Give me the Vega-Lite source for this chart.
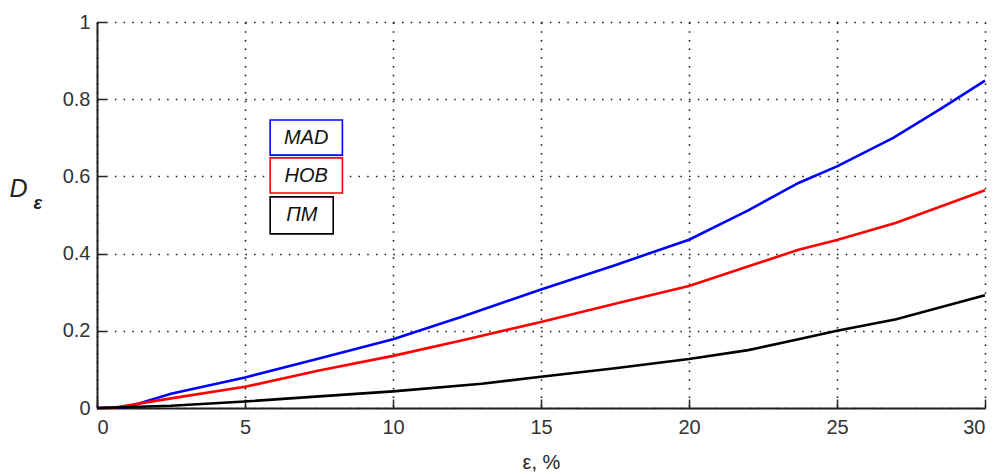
{
  "$schema": "https://vega.github.io/schema/vega-lite/v6.json",
  "width": 888,
  "height": 386,
  "autosize": {"type": "none"},
  "padding": {"left": 97, "top": 22, "right": 9, "bottom": 66},
  "background": "white",
  "config": {"view": {"stroke": null}, "font": "Liberation Sans"},
  "datasets": {
    "curves": [
      {"e": 0, "D": 0, "method": "MAD"},
      {"e": 1, "D": 0.002, "method": "MAD"},
      {"e": 2.5, "D": 0.037, "method": "MAD"},
      {"e": 5, "D": 0.079, "method": "MAD"},
      {"e": 7.5, "D": 0.128, "method": "MAD"},
      {"e": 10, "D": 0.178, "method": "MAD"},
      {"e": 12.3, "D": 0.236, "method": "MAD"},
      {"e": 15, "D": 0.307, "method": "MAD"},
      {"e": 17.5, "D": 0.37, "method": "MAD"},
      {"e": 20, "D": 0.436, "method": "MAD"},
      {"e": 22, "D": 0.512, "method": "MAD"},
      {"e": 23.7, "D": 0.583, "method": "MAD"},
      {"e": 25, "D": 0.626, "method": "MAD"},
      {"e": 26.9, "D": 0.7, "method": "MAD"},
      {"e": 28.5, "D": 0.775, "method": "MAD"},
      {"e": 30, "D": 0.848, "method": "MAD"},
      {"e": 0, "D": 0, "method": "НОВ"},
      {"e": 0.5, "D": 0, "method": "НОВ"},
      {"e": 2.5, "D": 0.025, "method": "НОВ"},
      {"e": 5, "D": 0.055, "method": "НОВ"},
      {"e": 7.5, "D": 0.097, "method": "НОВ"},
      {"e": 10, "D": 0.135, "method": "НОВ"},
      {"e": 12.5, "D": 0.178, "method": "НОВ"},
      {"e": 15, "D": 0.223, "method": "НОВ"},
      {"e": 17.5, "D": 0.27, "method": "НОВ"},
      {"e": 20, "D": 0.316, "method": "НОВ"},
      {"e": 23.7, "D": 0.41, "method": "НОВ"},
      {"e": 25, "D": 0.435, "method": "НОВ"},
      {"e": 27, "D": 0.48, "method": "НОВ"},
      {"e": 30, "D": 0.564, "method": "НОВ"},
      {"e": 0, "D": 0, "method": "ПМ"},
      {"e": 2.5, "D": 0.006, "method": "ПМ"},
      {"e": 5, "D": 0.017, "method": "ПМ"},
      {"e": 7.5, "D": 0.03, "method": "ПМ"},
      {"e": 10, "D": 0.043, "method": "ПМ"},
      {"e": 13, "D": 0.063, "method": "ПМ"},
      {"e": 15, "D": 0.081, "method": "ПМ"},
      {"e": 17.5, "D": 0.103, "method": "ПМ"},
      {"e": 20, "D": 0.127, "method": "ПМ"},
      {"e": 22, "D": 0.15, "method": "ПМ"},
      {"e": 23.7, "D": 0.178, "method": "ПМ"},
      {"e": 25, "D": 0.2, "method": "ПМ"},
      {"e": 27, "D": 0.23, "method": "ПМ"},
      {"e": 30, "D": 0.292, "method": "ПМ"}
    ],
    "labels": [
      {"method": "MAD", "x1": 5.85, "x2": 8.29, "y1": 0.655, "y2": 0.746, "tx": 7.07, "ty": 0.70},
      {"method": "НОВ", "x1": 5.85, "x2": 8.29, "y1": 0.557, "y2": 0.648, "tx": 7.07, "ty": 0.602},
      {"method": "ПМ", "x1": 5.85, "x2": 7.98, "y1": 0.451, "y2": 0.547, "tx": 6.92, "ty": 0.499}
    ],
    "sub": [{"s": "ε", "x": -2.0, "y": 0.516}]
  },
  "layer": [
    {
      "data": {"name": "curves"},
      "mark": {"type": "line"},
      "encoding": {
        "x": {
          "field": "e", "type": "quantitative",
          "scale": {"domain": [0, 30], "nice": false},
          "axis": {
            "values": [0, 5, 10, 15, 20, 25, 30],
            "title": "ε, %",
            "titleFont": "Liberation Sans", "titleFontSize": 20, "titleFontWeight": "normal", "titleColor": "#222",
            "titleY": 60, "titleBaseline": "alphabetic",
            "labelFont": "Liberation Sans", "labelFontSize": 20, "labelColor": "#333",
            "labelPadding": 18, "tickSize": -9, "tickColor": "#222", "tickWidth": 1.5,
            "domainColor": "#222", "domainWidth": 2,
            "grid": true, "gridColor": "#000", "gridDash": [1.5, 7.2], "gridWidth": 1.6, "gridOpacity": 0.9
          }
        },
        "y": {
          "field": "D", "type": "quantitative",
          "scale": {"domain": [0, 1], "nice": false},
          "axis": {
            "values": [0, 0.2, 0.4, 0.6, 0.8, 1],
            "format": "~g",
            "title": "D",
            "titleFont": "Liberation Sans", "titleFontSize": 25, "titleFontStyle": "italic", "titleFontWeight": "normal", "titleColor": "#222",
            "titleAngle": 0, "titleAlign": "left", "titleBaseline": "alphabetic", "titleX": -88, "titleY": 174,
            "labelFont": "Liberation Sans", "labelFontSize": 20, "labelColor": "#333",
            "labelPadding": 16, "tickSize": -9, "tickColor": "#222", "tickWidth": 1.5,
            "domainColor": "#222", "domainWidth": 2,
            "grid": true, "gridColor": "#000", "gridDash": [1.5, 7.2], "gridWidth": 1.6, "gridOpacity": 0.9
          }
        },
        "color": {
          "field": "method", "type": "nominal",
          "scale": {"domain": ["MAD", "НОВ", "ПМ"], "range": ["#0000ff", "#ff0000", "#000000"]},
          "legend": null
        },
        "strokeWidth": {
          "field": "method", "type": "nominal",
          "scale": {"domain": ["MAD", "НОВ", "ПМ"], "range": [2.6, 2.6, 3.6]},
          "legend": null
        }
      }
    },
    {
      "data": {"name": "labels"},
      "mark": {"type": "rect", "fill": "white", "strokeWidth": 1.6},
      "encoding": {
        "x": {"field": "x1", "type": "quantitative"},
        "x2": {"field": "x2"},
        "y": {"field": "y1", "type": "quantitative"},
        "y2": {"field": "y2"},
        "stroke": {
          "field": "method", "type": "nominal",
          "scale": {"domain": ["MAD", "НОВ", "ПМ"], "range": ["#0000ff", "#ff0000", "#000000"]},
          "legend": null
        }
      }
    },
    {
      "data": {"name": "labels"},
      "mark": {"type": "text", "font": "Liberation Sans", "fontSize": 20, "fontStyle": "italic", "color": "#111", "align": "center", "baseline": "middle"},
      "encoding": {
        "x": {"field": "tx", "type": "quantitative"},
        "y": {"field": "ty", "type": "quantitative"},
        "text": {"field": "method"}
      }
    },
    {
      "data": {"name": "sub"},
      "mark": {"type": "text", "font": "Liberation Sans", "fontSize": 18, "fontStyle": "italic", "fontWeight": "bold", "color": "#222", "align": "center", "baseline": "alphabetic"},
      "encoding": {
        "x": {"field": "x", "type": "quantitative"},
        "y": {"field": "y", "type": "quantitative"},
        "text": {"field": "s"}
      }
    }
  ]
}
